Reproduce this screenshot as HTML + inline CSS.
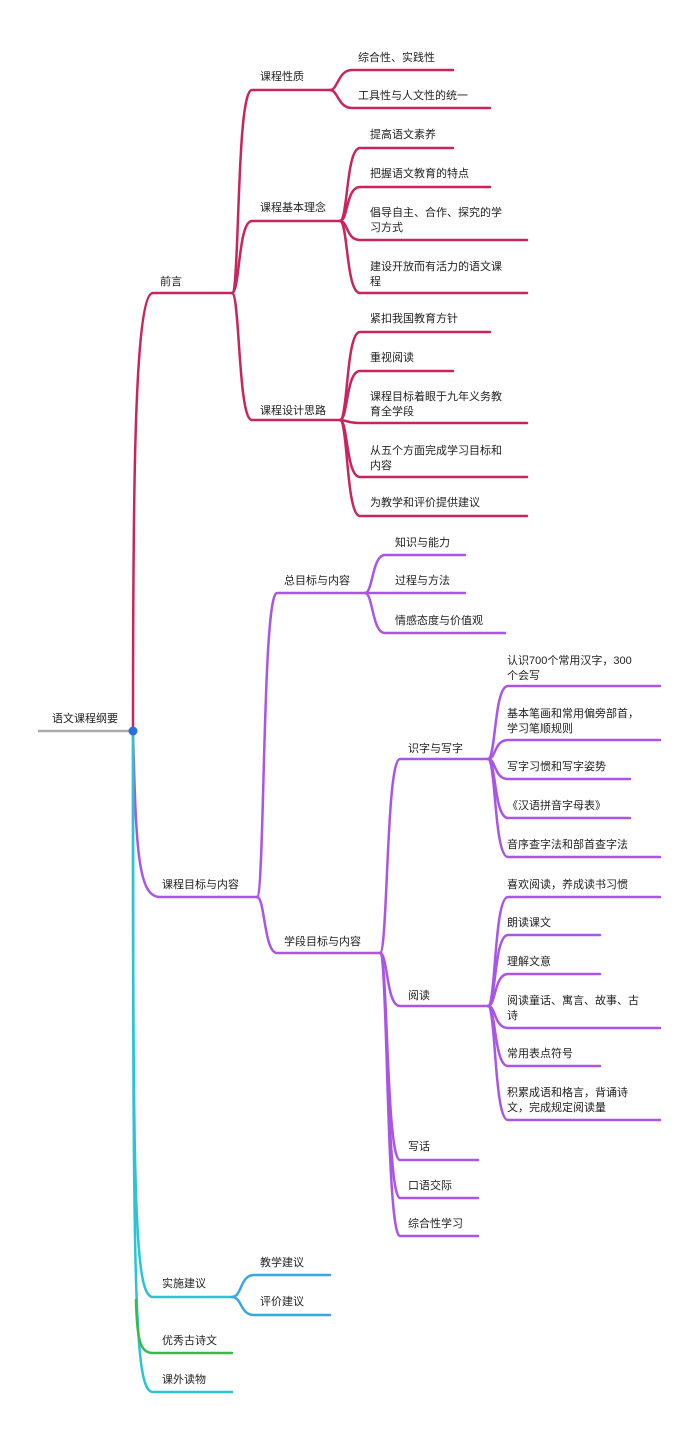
<!DOCTYPE html>
<html><head><meta charset="utf-8"><style>
html,body{margin:0;padding:0;background:#fff;}
svg{display:block}
text{font-family:"Liberation Sans","Noto Sans CJK SC",sans-serif;font-size:11px;fill:#222;}
.p{stroke:#c8255f;stroke-width:2.5;fill:none;stroke-linecap:round}
.v{stroke:#a955e6;stroke-width:2.5;fill:none;stroke-linecap:round}
.c{stroke:#2cc4d4;stroke-width:2.5;fill:none;stroke-linecap:round}
.b{stroke:#39a6e6;stroke-width:2.5;fill:none;stroke-linecap:round}
.g{stroke:#3db84a;stroke-width:2.5;fill:none;stroke-linecap:round}
</style></head><body>
<svg width="700" height="1432" viewBox="0 0 700 1432">
<!-- root -->
<path d="M38 731 H133" stroke="#aaa" stroke-width="2.5" fill="none"/>
<text x="52" y="722">语文课程纲要</text>

<!-- pink -->
<path class="p" d="M133 731 C133 500,134 293,153 293 H232"/>
<text x="160" y="285">前言</text>
<path class="p" d="M232 293 C240 293,236 90,252 90 H330"/>
<path class="p" d="M232 293 C240 293,238 221,252 221 H340"/>
<path class="p" d="M232 293 C240 293,238 420,252 420 H340"/>
<text x="260" y="80">课程性质</text>
<text x="260" y="211">课程基本理念</text>
<text x="260" y="414">课程设计思路</text>
<path class="p" d="M330 90 C338 90,338 70,352 70 H453"/>
<path class="p" d="M330 90 C338 90,338 108,352 108 H490"/>
<text x="358" y="61">综合性、实践性</text>
<text x="358" y="99">工具性与人文性的统一</text>
<path class="p" d="M340 221 C348 221,346 148,360 148 H453"/>
<path class="p" d="M340 221 C348 221,346 187,360 187 H490"/>
<path class="p" d="M340 221 C348 221,346 240,360 240 H527"/>
<path class="p" d="M340 221 C348 221,346 293,360 293 H527"/>
<text x="370" y="138">提高语文素养</text>
<text x="370" y="177">把握语文教育的特点</text>
<text x="370" y="216">倡导自主、合作、探究的学</text>
<text x="370" y="231">习方式</text>
<text x="370" y="270">建设开放而有活力的语文课</text>
<text x="370" y="285">程</text>
<path class="p" d="M340 420 C348 420,346 332,360 332 H490"/>
<path class="p" d="M340 420 C348 420,346 371,360 371 H453"/>
<path class="p" d="M340 420 C348 420,346 423,360 423 H527"/>
<path class="p" d="M340 420 C348 420,346 477,360 477 H527"/>
<path class="p" d="M340 420 C348 420,346 516,360 516 H527"/>
<text x="370" y="322">紧扣我国教育方针</text>
<text x="370" y="361">重视阅读</text>
<text x="370" y="400">课程目标着眼于九年义务教</text>
<text x="370" y="415">育全学段</text>
<text x="370" y="454">从五个方面完成学习目标和</text>
<text x="370" y="469">内容</text>
<text x="370" y="506">为教学和评价提供建议</text>

<!-- purple -->
<path class="v" d="M133 731 C136 850,138 897,160 897 H257"/>
<text x="162" y="888">课程目标与内容</text>
<path class="v" d="M257 897 C265 897,262 593,277 593 H365"/>
<path class="v" d="M257 897 C265 897,264 953,277 953 H380"/>
<text x="284" y="584">总目标与内容</text>
<text x="284" y="945">学段目标与内容</text>
<path class="v" d="M365 593 C373 593,372 555,385 555 H465"/>
<path class="v" d="M365 593 H465"/>
<path class="v" d="M365 593 C373 593,372 633,385 633 H505"/>
<text x="395" y="546">知识与能力</text>
<text x="395" y="584">过程与方法</text>
<text x="395" y="624">情感态度与价值观</text>
<path class="v" d="M380 953 C388 953,386 759,400 759 H488"/>
<path class="v" d="M380 953 C388 953,386 1006,400 1006 H488"/>
<path class="v" d="M380 953 C388 953,386 1160,400 1160 H478"/>
<path class="v" d="M380 953 C388 953,386 1198,400 1198 H478"/>
<path class="v" d="M380 953 C388 953,386 1236,400 1236 H478"/>
<text x="408" y="752">识字与写字</text>
<text x="408" y="999">阅读</text>
<text x="408" y="1150">写话</text>
<text x="408" y="1189">口语交际</text>
<text x="408" y="1227">综合性学习</text>
<path class="v" d="M488 759 C496 759,494 686,508 686 H660"/>
<path class="v" d="M488 759 C496 759,494 740,508 740 H660"/>
<path class="v" d="M488 759 C496 759,494 779,508 779 H630"/>
<path class="v" d="M488 759 C496 759,494 818,508 818 H630"/>
<path class="v" d="M488 759 C496 759,494 857,508 857 H660"/>
<text x="507" y="664">认识700个常用汉字，300</text>
<text x="507" y="679">个会写</text>
<text x="507" y="717">基本笔画和常用偏旁部首，</text>
<text x="507" y="732">学习笔顺规则</text>
<text x="507" y="770">写字习惯和写字姿势</text>
<text x="507" y="809">《汉语拼音字母表》</text>
<text x="507" y="848">音序查字法和部首查字法</text>
<path class="v" d="M488 1006 C496 1006,494 897,508 897 H660"/>
<path class="v" d="M488 1006 C496 1006,494 935,508 935 H600"/>
<path class="v" d="M488 1006 C496 1006,494 974,508 974 H600"/>
<path class="v" d="M488 1006 C496 1006,494 1028,508 1028 H660"/>
<path class="v" d="M488 1006 C496 1006,494 1066,508 1066 H600"/>
<path class="v" d="M488 1006 C496 1006,494 1120,508 1120 H660"/>
<text x="507" y="888">喜欢阅读，养成读书习惯</text>
<text x="507" y="926">朗读课文</text>
<text x="507" y="965">理解文意</text>
<text x="507" y="1004">阅读童话、寓言、故事、古</text>
<text x="507" y="1019">诗</text>
<text x="507" y="1057">常用表点符号</text>
<text x="507" y="1096">积累成语和格言，背诵诗</text>
<text x="507" y="1111">文，完成规定阅读量</text>

<!-- cyan/blue/green -->
<path class="c" d="M133 731 C133 1200,134 1297,153 1297 H232"/>
<path class="c" d="M133 731 C133 1300,134 1392,153 1392 H232"/>
<path class="g" d="M136 1300 C137 1340,140 1353,153 1353 H232"/>
<text x="162" y="1287">实施建议</text>
<text x="162" y="1344">优秀古诗文</text>
<text x="162" y="1383">课外读物</text>
<path class="b" d="M232 1297 C242 1297,240 1275,254 1275 H330"/>
<path class="b" d="M232 1297 C242 1297,240 1315,254 1315 H330"/>
<text x="260" y="1266">教学建议</text>
<text x="260" y="1305">评价建议</text>
<circle cx="133" cy="731" r="4.5" fill="#2a6fe0"/>
</svg>
</body></html>
